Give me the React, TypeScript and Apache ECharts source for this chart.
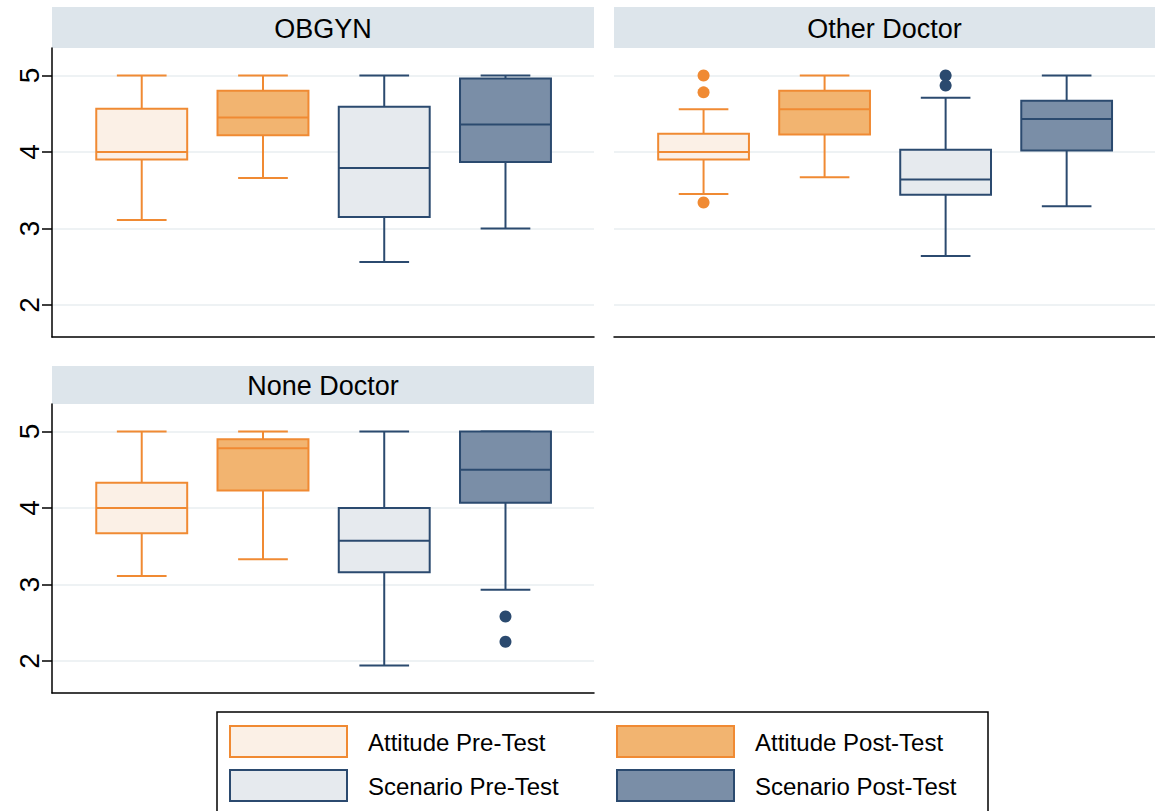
import React, { useEffect, useRef } from "react";
import * as echarts from "echarts";

// ---------- data ----------
const PANELS = ["OBGYN", "Other Doctor", "None Doctor"];
const GROUPS = ["Attitude Pre-Test", "Attitude Post-Test", "Scenario Pre-Test", "Scenario Post-Test"];
// each box: [lower whisker, Q1, median, Q3, upper whisker]
const OBGYN_BOXES = [
  [3.11, 3.9, 4.0, 4.565, 5.0],
  [3.66, 4.22, 4.45, 4.8, 5.0],
  [2.56, 3.15, 3.79, 4.59, 5.0],
  [3.0, 3.87, 4.36, 4.96, 5.0],
];
const OTHER_BOXES = [
  [3.45, 3.9, 4.0, 4.24, 4.56],
  [3.67, 4.23, 4.56, 4.8, 5.0],
  [2.64, 3.44, 3.64, 4.03, 4.71],
  [3.29, 4.02, 4.43, 4.67, 5.0],
];
const NONE_BOXES = [
  [3.11, 3.67, 4.0, 4.33, 5.0],
  [3.33, 4.23, 4.78, 4.9, 5.0],
  [1.94, 3.16, 3.57, 4.0, 5.0],
  [2.93, 4.07, 4.5, 5.0, 5.0],
];
// outliers: [group index (1-based), value]
const OBGYN_OUTLIERS: number[][] = [];
const OTHER_OUTLIERS = [
  [1, 5.0],
  [1, 4.78],
  [1, 3.34],
  [3, 5.0],
  [3, 4.87],
];
const NONE_OUTLIERS = [
  [4, 2.58],
  [4, 2.25],
];
const Y_TICKS = [2, 3, 4, 5];

const ALL_BOXES = [OBGYN_BOXES, OTHER_BOXES, NONE_BOXES];
const ALL_OUTLIERS = [OBGYN_OUTLIERS, OTHER_OUTLIERS, NONE_OUTLIERS];

// ---------- styles ----------
const ORANGE = "#F08A33";
const NAVY = "#2B4A6F";
const STROKES = [ORANGE, ORANGE, NAVY, NAVY];
const FILLS = ["#FBF0E6", "#F2B470", "#E6EAEE", "#7A8EA7"];
const HEADER_FILL = "#DDE5EB";
const GRID_COLOR = "#E8EEF1";
const FONT = "'Liberation Sans', Arial, Helvetica, sans-serif";

const GRIDS = [
  { left: 52, top: 48, width: 542, height: 289 },
  { left: 614, top: 48, width: 541, height: 289 },
  { left: 52, top: 404, width: 542, height: 289 },
];
const HEADERS = [
  { x: 52, y: 7, w: 542, h: 41 },
  { x: 614, y: 7, w: 541, h: 41 },
  { x: 52, y: 366, w: 542, h: 38 },
];

function makeRenderItem(g: number) {
  return (params: any, api: any) => {
    const x = api.value(0);
    const lo = api.coord([x, api.value(1)]);
    const q1 = api.coord([x, api.value(2)]);
    const md = api.coord([x, api.value(3)]);
    const q3 = api.coord([x, api.value(4)]);
    const hi = api.coord([x, api.value(5)]);
    const unit = api.size([1, 0])[0];
    const hb = unit * 0.375;
    const hc = unit * 0.205;
    const cx = md[0];
    const ls = { stroke: STROKES[g], lineWidth: 2, fill: null };
    return {
      type: "group",
      children: [
        { type: "line", shape: { x1: cx, y1: q3[1], x2: cx, y2: hi[1] }, style: ls },
        { type: "line", shape: { x1: cx, y1: q1[1], x2: cx, y2: lo[1] }, style: ls },
        { type: "line", shape: { x1: cx - hc, y1: hi[1], x2: cx + hc, y2: hi[1] }, style: ls },
        { type: "line", shape: { x1: cx - hc, y1: lo[1], x2: cx + hc, y2: lo[1] }, style: ls },
        {
          type: "rect",
          shape: { x: cx - hb, y: q3[1], width: 2 * hb, height: q1[1] - q3[1] },
          style: { fill: FILLS[g], stroke: STROKES[g], lineWidth: 2 },
        },
        { type: "line", shape: { x1: cx - hb, y1: md[1], x2: cx + hb, y2: md[1] }, style: ls },
      ],
    };
  };
}

export default function App() {
  const ref = useRef<HTMLDivElement>(null);

  useEffect(() => {
    if (!ref.current) return;
    const chart = echarts.init(ref.current, null, { renderer: "svg" });

    const xAxis = GRIDS.map((_, p) => ({
      gridIndex: p,
      type: "value",
      min: 0.26,
      max: 4.73,
      axisLine: { show: true, onZero: false, lineStyle: { color: "#000", width: 1.5 } },
      axisTick: { show: false },
      axisLabel: { show: false },
      splitLine: { show: false },
    }));
    const yAxis = GRIDS.map((_, p) => ({
      gridIndex: p,
      type: "value",
      min: 1.58,
      max: 5.36,
      axisLine: { show: p !== 1, lineStyle: { color: "#000", width: 1.5 } },
      axisTick: {
        show: p !== 1,
        length: 10,
        customValues: Y_TICKS,
        lineStyle: { color: "#000", width: 1.5 },
      },
      axisLabel: {
        show: p !== 1,
        customValues: Y_TICKS,
        rotate: 90,
        fontSize: 28,
        color: "#000",
        margin: 9,
        fontFamily: FONT,
      },
      splitLine: { show: true, lineStyle: { color: GRID_COLOR, width: 1.5 } },
    }));

    const series: any[] = [];
    ALL_BOXES.forEach((boxes, p) => {
      boxes.forEach((b, g) => {
        series.push({
          type: "custom",
          name: GROUPS[g],
          xAxisIndex: p,
          yAxisIndex: p,
          encode: { x: 0, y: [1, 2, 3, 4, 5] },
          data: [[g + 1, ...b]],
          renderItem: makeRenderItem(g),
          silent: true,
        });
      });
      series.push({
        type: "scatter",
        name: PANELS[p] + " outliers",
        xAxisIndex: p,
        yAxisIndex: p,
        symbol: "circle",
        symbolSize: 12,
        itemStyle: { opacity: 1 },
        data: ALL_OUTLIERS[p].map((o) => ({
          value: o,
          itemStyle: { color: STROKES[o[0] - 1], opacity: 1 },
        })),
        silent: true,
      });
    });

    const graphic: any[] = [];
    HEADERS.forEach((h, p) => {
      graphic.push({
        type: "rect",
        shape: { x: h.x, y: h.y, width: h.w, height: h.h },
        style: { fill: HEADER_FILL },
        silent: true,
      });
      graphic.push({
        type: "text",
        x: h.x + h.w / 2,
        y: h.y + h.h / 2 + 1,
        style: {
          text: PANELS[p],
          fill: "#000",
          font: `27px ${FONT}`,
          textAlign: "center",
          textVerticalAlign: "middle",
        },
        silent: true,
      });
    });
    // legend
    graphic.push({
      type: "rect",
      shape: { x: 217, y: 712, width: 771, height: 120 },
      style: { fill: "#fff", stroke: "#000", lineWidth: 1.5 },
      silent: true,
    });
    const legendPos = [
      { sx: 230, sy: 726, tx: 368 },
      { sx: 617, sy: 726, tx: 755 },
      { sx: 230, sy: 770, tx: 368 },
      { sx: 617, sy: 770, tx: 755 },
    ];
    GROUPS.forEach((name, g) => {
      const lp = legendPos[g];
      graphic.push({
        type: "rect",
        shape: { x: lp.sx, y: lp.sy, width: 117, height: 31 },
        style: { fill: FILLS[g], stroke: STROKES[g], lineWidth: 2 },
        silent: true,
      });
      graphic.push({
        type: "text",
        x: lp.tx,
        y: lp.sy + 16,
        style: {
          text: name,
          fill: "#000",
          font: `24px ${FONT}`,
          textAlign: "left",
          textVerticalAlign: "middle",
        },
        silent: true,
      });
    });

    chart.setOption({
      animation: false,
      backgroundColor: "#fff",
      grid: GRIDS.map((g) => ({ ...g, containLabel: false })),
      xAxis,
      yAxis,
      series,
      graphic,
    });

    return () => chart.dispose();
  }, []);

  return (
    <div
      ref={ref}
      style={{ position: "absolute", left: 0, top: 0, width: 1155, height: 811 }}
    />
  );
}
